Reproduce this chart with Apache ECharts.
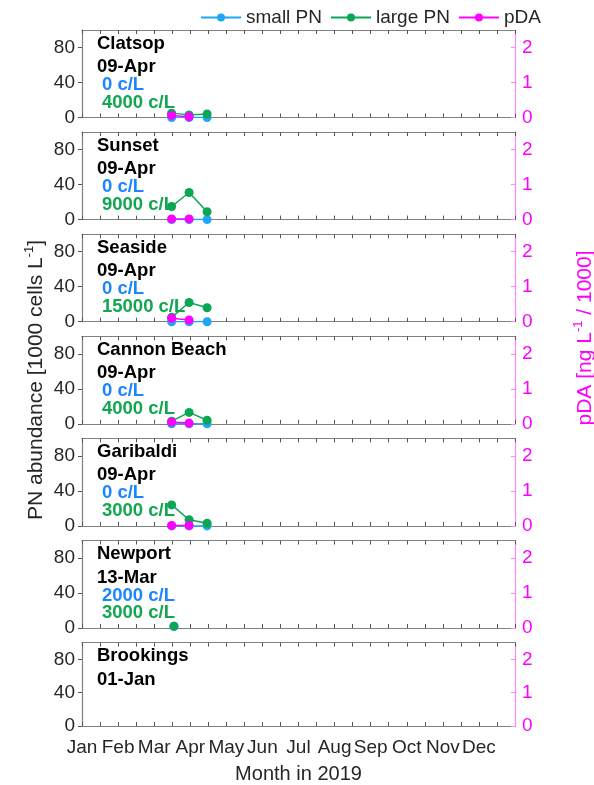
<!DOCTYPE html>
<html>
<head>
<meta charset="utf-8">
<script src="https://cdn.jsdelivr.net/npm/echarts@6/dist/echarts.min.js"></script>
<style>html,body{margin:0;padding:0;background:#fff}#c{width:594px;height:785px}</style>
</head>
<body>
<div id="c"></div>
<script>
const months = ['Jan','Feb','Mar','Apr','May','Jun','Jul','Aug','Sep','Oct','Nov','Dec'];
const sites = ['Clatsop','Sunset','Seaside','Cannon Beach','Garibaldi','Newport','Brookings'];
const latestDates = ['09-Apr','09-Apr','09-Apr','09-Apr','09-Apr','13-Mar','01-Jan'];
const smallLabels = ['0 c/L','0 c/L','0 c/L','0 c/L','0 c/L','2000 c/L',''];
const largeLabels = ['4000 c/L','9000 c/L','15000 c/L','4000 c/L','3000 c/L','3000 c/L',''];
const sampleDates = [
  ['2019-03-16','2019-03-31','2019-04-15'],
  ['2019-03-16','2019-03-31','2019-04-15'],
  ['2019-03-16','2019-03-31','2019-04-15'],
  ['2019-03-16','2019-03-31','2019-04-15'],
  ['2019-03-16','2019-03-31','2019-04-15'],
  ['2019-03-18'],
  []
];
const smallPN = [[0,0,0],[0,0,0],[0,0,0],[0,0,0],[0,0,0],[2],[]];
const largePN = [[5,3,4],[15,31,9],[5,22,16],[3,13,4],[24,7,3],[2],[]];
const pDA = [[0.06,0.02],[0.02,0.02],[0.1,0.05],[0.05,0.02],[0.01,0.01],[],[]];
const leftTicks = {min:0, max:100, interval:40};
const rightTicks = {min:0, max:2.5, interval:1};

const C_SMALL = '#1FA6F5', C_LARGE = '#0AA653', C_PDA = '#FF00FF';
const T_SMALL = '#1A86FF', T_LARGE = '#12A650';
const FONT = 'Liberation Sans, Arial, Helvetica, sans-serif';

function toMonth(s){
  const [y,m,d] = s.split('-').map(Number);
  const dim = new Date(y, m, 0).getDate();
  return (m-1) + (d-1)/dim;
}

const PLEFT = 82, PRIGHT = 515, TOP0 = 30, STEP = 102.1, H = 87.5;
const grid = [], xAxis = [], yAxis = [], series = [], graphic = [];
const grey = {show:true, onZero:false, lineStyle:{color:'#808080', width:1.2}};
sites.forEach((site, i) => {
  const top = TOP0 + i*STEP;
  const last = i === sites.length-1;
  grid.push({left: PLEFT, width: PRIGHT-PLEFT, top: top, height: H});
  xAxis.push({
    type:'value', gridIndex:i, position:'bottom', min:0, max:12, interval:0.5,
    axisLine:grey,
    axisTick:{show:true, inside:true, length:4, lineStyle:{color:'#555'}},
    splitLine:{show:false},
    axisLabel:{show:last, margin:12, fontSize:19, color:'#262626', fontFamily:FONT,
      showMinLabel:true, showMaxLabel:false,
      formatter: v => (Math.abs(v-Math.round(v))<1e-6 && v<12) ? months[Math.round(v)] : ''},
    name: last ? 'Month in 2019' : '', nameLocation:'middle', nameGap:38,
    nameTextStyle:{fontSize:20, color:'#262626', fontFamily:FONT}
  });
  xAxis.push({
    type:'value', gridIndex:i, position:'top', min:0, max:12, interval:0.5,
    axisLine:grey,
    axisTick:{show:true, inside:true, length:4, lineStyle:{color:'#555'}},
    splitLine:{show:false}, axisLabel:{show:false}
  });
  yAxis.push({
    type:'value', gridIndex:i, position:'left', min:leftTicks.min, max:leftTicks.max, interval:leftTicks.interval,
    axisLine:grey,
    axisTick:{show:true, inside:false, length:4, lineStyle:{color:'#555'}},
    splitLine:{show:false},
    axisLabel:{margin:7, fontSize:19, color:'#262626', fontFamily:FONT, showMaxLabel:false}
  });
  yAxis.push({
    type:'value', gridIndex:i, position:'right', min:rightTicks.min, max:rightTicks.max, interval:rightTicks.interval,
    axisLine:{show:true, onZero:false, lineStyle:{color:'#FF88FF', width:1.2}},
    axisTick:{show:true, inside:true, length:4, lineStyle:{color:'#FF88FF'}},
    splitLine:{show:false},
    axisLabel:{margin:7, fontSize:19, color:'#FF00FF', fontFamily:FONT, showMaxLabel:false}
  });
  const xs = sampleDates[i].map(toMonth);
  const mk = (name, vals, color, yIdx) => ({
    name, type:'line', xAxisIndex:i*2, yAxisIndex:yIdx,
    data: vals.map((v,k)=>[xs[k], v]),
    symbol:'circle', symbolSize:9, showSymbol:true,
    lineStyle:{color, width:1.5}, itemStyle:{color},
    animation:false, z:2
  });
  series.push(mk('small PN', smallPN[i], C_SMALL, i*2));
  series.push(mk('large PN', largePN[i], C_LARGE, i*2));
  series.push(mk('pDA', pDA[i], C_PDA, i*2+1));

  const lines = [
    {t: site, c:'#000', dx:97, dy:13.5},
    {t: latestDates[i], c:'#000', dx:97, dy:37},
    {t: smallLabels[i], c:T_SMALL, dx:102, dy:55},
    {t: largeLabels[i], c:T_LARGE, dx:102, dy:72.5}
  ];
  lines.forEach(l => {
    if (!l.t) return;
    graphic.push({type:'text', x:l.dx, y: top + l.dy, z:10,
      style:{text:l.t, fill:l.c, font:'bold 18.5px ' + FONT, verticalAlign:'middle', align:'left'}});
  });
});

graphic.push({
  type:'text', x:35, y:380, rotation:Math.PI/2, z:10,
  style:{
    text:'{n|PN abundance [1000 cells L}{s|-1}{n|]}',
    align:'center', verticalAlign:'middle',
    rich:{n:{fontSize:21, fontFamily:FONT, fill:'#262626', lineHeight:24, verticalAlign:'bottom'},
          s:{fontSize:13, fontFamily:FONT, fill:'#262626', lineHeight:24, verticalAlign:'top'}}
  }
});
graphic.push({
  type:'text', x:584, y:338, rotation:Math.PI/2, z:10,
  style:{
    text:'{n|pDA [ng L}{s|-1}{n| / 1000]}',
    align:'center', verticalAlign:'middle',
    rich:{n:{fontSize:21, fontFamily:FONT, fill:'#FF00FF', lineHeight:24, verticalAlign:'bottom'},
          s:{fontSize:13, fontFamily:FONT, fill:'#FF00FF', lineHeight:24, verticalAlign:'top'}}
  }
});

const chart = echarts.init(document.getElementById('c'), null, {renderer:'canvas'});
chart.setOption({
  animation:false,
  backgroundColor:'#fff',
  legend:{
    data:['small PN','large PN','pDA'], left:195, top:3, itemWidth:40, itemHeight:10, itemGap:8,
    textStyle:{fontSize:19, color:'#262626', fontFamily:FONT}
  },
  grid, xAxis, yAxis, series, graphic
});
</script>
</body>
</html>
